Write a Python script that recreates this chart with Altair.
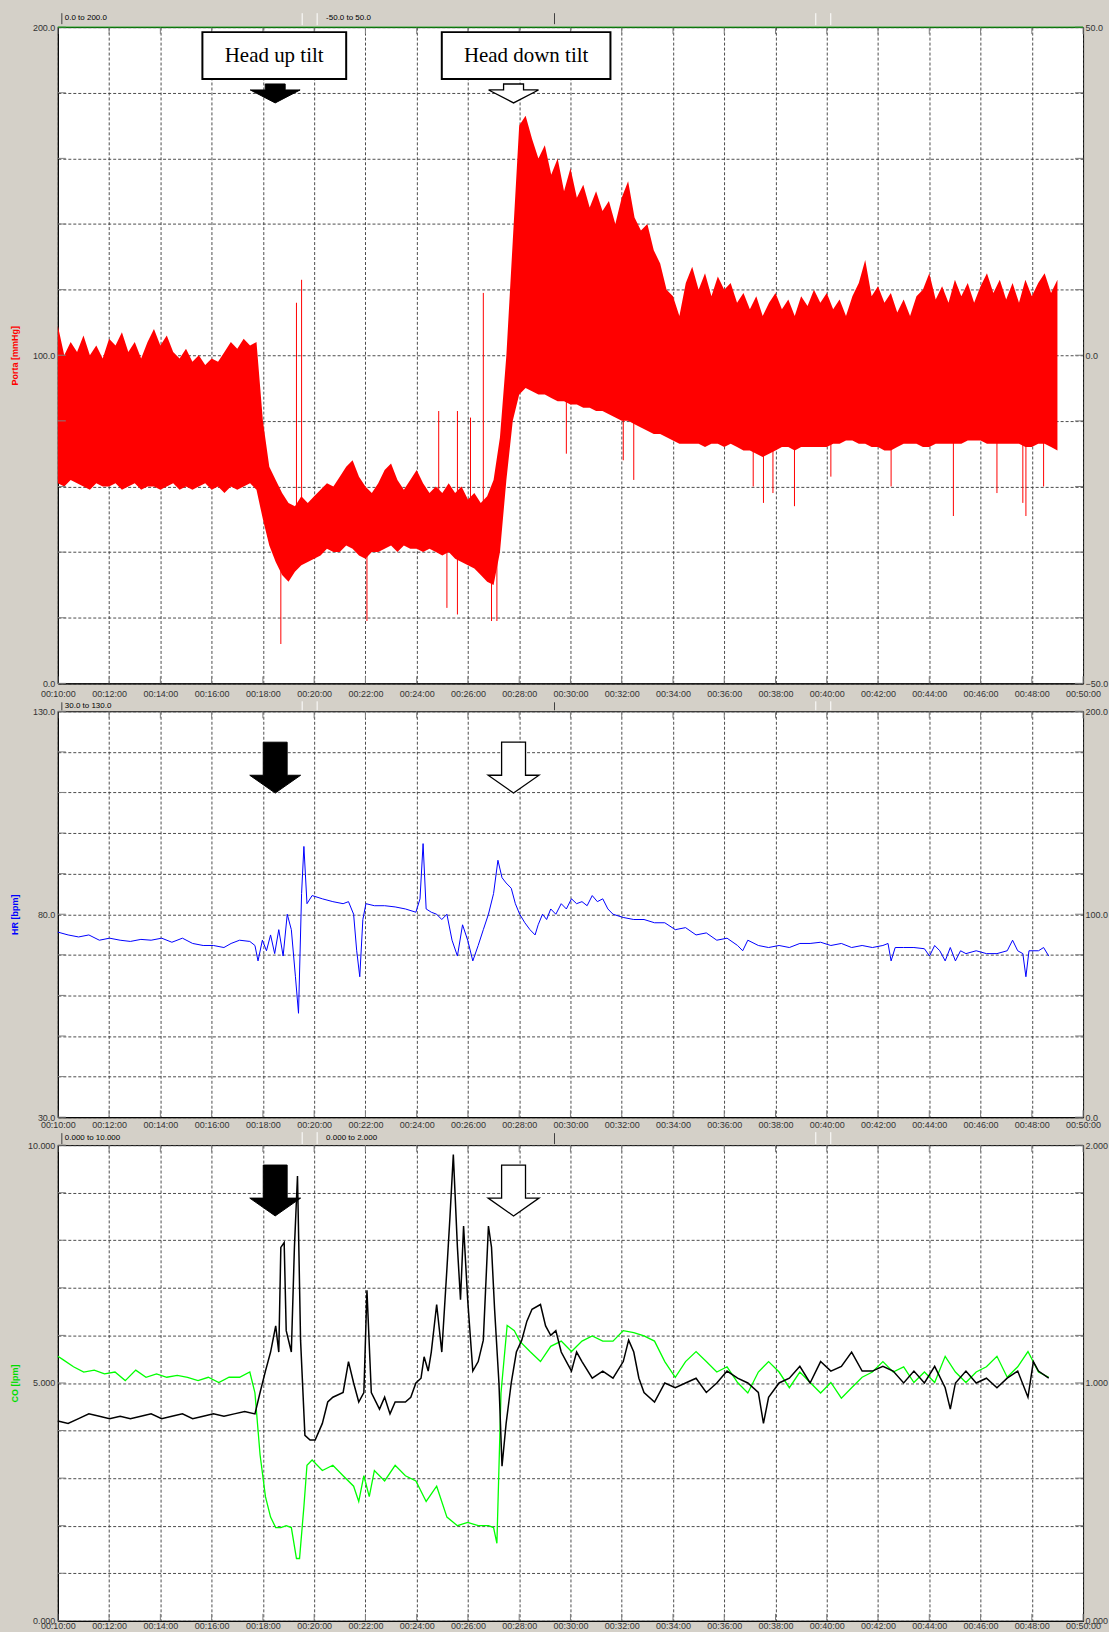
import altair as alt
import pandas as pd

# ---------------- data ----------------
# Top panel: aortic pressure (Porta, mmHg) - pulsatile envelope (min / max), every 15 s
p_time = [10.0, 10.25, 10.5, 10.75, 11.0, 11.25, 11.5, 11.75, 12.0, 12.25, 12.5, 12.75,
          13.0, 13.25, 13.5, 13.75, 14.0, 14.25, 14.5, 14.75, 15.0, 15.25, 15.5, 15.75,
          16.0, 16.25, 16.5, 16.75, 17.0, 17.25, 17.5, 17.75, 18.0, 18.25, 18.5, 18.75,
          19.0, 19.25, 19.5, 19.75, 20.0, 20.25, 20.5, 20.75, 21.0, 21.25, 21.5, 21.75,
          22.0, 22.25, 22.5, 22.75, 23.0, 23.25, 23.5, 23.75, 24.0, 24.25, 24.5, 24.75,
          25.0, 25.25, 25.5, 25.75, 26.0, 26.25, 26.5, 26.75, 27.0, 27.25, 27.5, 27.75,
          28.0, 28.25, 28.5, 28.75, 29.0, 29.25, 29.5, 29.75, 30.0, 30.25, 30.5, 30.75,
          31.0, 31.25, 31.5, 31.75, 32.0, 32.25, 32.5, 32.75, 33.0, 33.25, 33.5, 33.75,
          34.0, 34.25, 34.5, 34.75, 35.0, 35.25, 35.5, 35.75, 36.0, 36.25, 36.5, 36.75,
          37.0, 37.25, 37.5, 37.75, 38.0, 38.25, 38.5, 38.75, 39.0, 39.25, 39.5, 39.75,
          40.0, 40.25, 40.5, 40.75, 41.0, 41.25, 41.5, 41.75, 42.0, 42.25, 42.5, 42.75,
          43.0, 43.25, 43.5, 43.75, 44.0, 44.25, 44.5, 44.75, 45.0, 45.25, 45.5, 45.75,
          46.0, 46.25, 46.5, 46.75, 47.0, 47.25, 47.5, 47.75, 48.0, 48.25, 48.5, 48.75,
          49.0]
p_upper = [109, 100, 104, 101, 106, 100, 103, 99, 105, 103, 107, 101,
           104, 99, 104, 108, 103, 106, 101, 99, 102, 98, 100, 97,
           99, 98, 101, 104, 102, 105, 103, 104, 80, 66, 62, 58,
           55, 54, 57, 55, 57, 59, 61, 60, 63, 66, 68, 63,
           60, 58, 61, 65, 67, 62, 59, 62, 65, 61, 58, 60,
           58, 61, 58, 60, 56, 58, 55, 57, 62, 75, 100, 135,
           170, 173, 166, 160, 164, 155, 160, 150, 157, 148, 152, 145,
           150, 144, 147, 140, 148, 153, 142, 138, 140, 132, 128, 120,
           118, 112, 122, 127, 120, 125, 118, 124, 120, 122, 116, 119,
           114, 118, 112, 116, 119, 114, 117, 112, 118, 115, 120, 116,
           119, 114, 117, 112, 118, 122, 129, 118, 121, 116, 119, 113,
           117, 112, 118, 120, 125, 117, 121, 116, 123, 118, 122, 116,
           121, 125, 119, 123, 117, 122, 116, 123, 118, 122, 125, 119,
           123]
p_lower = [61, 60, 62, 61, 60, 59, 61, 60, 60, 61, 59, 60,
           61, 59, 60, 60, 59, 60, 61, 59, 60, 59, 60, 61,
           59, 60, 58, 60, 59, 60, 61, 59, 50, 42, 37, 33,
           31, 34, 36, 37, 38, 39, 41, 40, 40, 42, 41, 39,
           38, 40, 40, 41, 42, 40, 42, 41, 41, 40, 41, 40,
           39, 40, 38, 37, 36, 35, 33, 31, 30, 40, 62, 80,
           88, 90, 89, 88, 88, 87, 86, 86, 85, 85, 84, 84,
           83, 83, 82, 81, 80, 80, 79, 78, 77, 76, 76, 75,
           74, 73, 73, 73, 73, 72, 73, 73, 72, 73, 72, 71,
           71, 70, 69, 70, 71, 72, 72, 71, 72, 72, 72, 72,
           72, 73, 73, 74, 74, 73, 73, 72, 72, 71, 71, 72,
           73, 73, 73, 72, 72, 73, 73, 73, 73, 73, 74, 74,
           74, 73, 73, 73, 73, 73, 73, 72, 72, 73, 73, 72,
           71]
# isolated spikes of the pressure trace
sp_time = [18.70, 19.31, 19.51, 22.06, 24.86, 25.18, 25.59, 25.59, 26.10, 26.60, 26.92, 27.13,
           29.84, 32.06, 32.47, 37.13, 37.53, 37.90, 38.74, 40.16, 42.51, 44.94, 46.64, 47.65,
           47.77, 48.46]
sp_low = [12, 40, 50, 19, 45, 23, 21, 45, 45, 45, 19, 19,
          70, 68, 62, 60, 55, 58, 54, 63, 60, 51, 58, 55, 51, 60]
sp_high = [45, 116, 123, 45, 83, 45, 45, 83, 81, 119, 40, 40,
           95, 90, 90, 80, 80, 80, 80, 80, 80, 80, 80, 80, 80, 80]

# Middle panel: heart rate (bpm)
hr_time = [10.00, 10.40, 10.81, 11.21, 11.62, 12.02, 12.43, 12.83, 13.24, 13.64, 14.05, 14.45, 14.86,
           15.26, 15.67, 16.07, 16.48, 16.76, 17.09, 17.49, 17.69, 17.81, 17.98, 18.14, 18.30, 18.46,
           18.62, 18.79, 18.95, 19.11, 19.27, 19.39, 19.51, 19.60, 19.72, 19.92, 20.32, 20.73, 21.13,
           21.34, 21.54, 21.66, 21.78, 21.90, 22.02, 22.35, 22.75, 23.16, 23.56, 23.97, 24.13, 24.25,
           24.37, 24.57, 24.78, 24.98, 25.18, 25.38, 25.59, 25.79, 25.99, 26.19, 26.40, 26.60, 26.80,
           27.00, 27.17, 27.33, 27.49, 27.69, 27.85, 28.02, 28.22, 28.42, 28.62, 28.74, 28.91, 29.07,
           29.23, 29.43, 29.64, 29.84, 30.04, 30.24, 30.45, 30.65, 30.85, 31.05, 31.26, 31.46, 31.66,
           32.06, 32.47, 32.87, 33.28, 33.68, 34.09, 34.49, 34.90, 35.30, 35.71, 36.11, 36.52, 36.72,
           36.92, 37.33, 37.73, 38.14, 38.54, 38.95, 39.35, 39.76, 40.16, 40.57, 40.97, 41.38, 41.78,
           42.19, 42.39, 42.51, 42.67, 43.00, 43.40, 43.81, 44.01, 44.21, 44.41, 44.62, 44.82, 45.02,
           45.22, 45.43, 45.83, 46.23, 46.64, 47.04, 47.25, 47.45, 47.65, 47.77, 47.89, 48.26, 48.46,
           48.66]
hr_val = [75.6, 74.9, 74.4, 74.9, 73.6, 74.1, 73.6, 73.3, 73.8, 73.6, 74.1, 73.1, 74.1,
          72.8, 72.3, 72.3, 71.8, 72.8, 73.6, 73.3, 72.3, 68.5, 73.6, 71.0, 74.9, 70.3,
          76.2, 69.7, 80.0, 76.2, 64.6, 55.6, 85.1, 96.7, 82.6, 84.6, 83.8, 83.1, 82.6,
          83.1, 80.0, 71.0, 64.6, 78.7, 82.6, 82.1, 82.1, 81.8, 81.3, 80.5, 83.8, 97.4,
          81.3, 80.5, 80.0, 78.7, 80.0, 73.6, 69.7, 77.4, 73.6, 68.5, 72.3, 76.2, 80.0,
          85.1, 93.3, 89.0, 87.7, 86.4, 82.6, 80.0, 77.9, 76.2, 74.9, 77.4, 80.0, 78.7,
          81.3, 80.0, 82.6, 81.3, 83.8, 82.6, 83.1, 82.1, 84.6, 83.1, 83.8, 81.3, 80.0,
          79.2, 78.7, 78.7, 77.9, 77.9, 76.2, 76.7, 74.9, 75.4, 73.6, 74.1, 72.3, 71.0,
          73.6, 72.3, 71.8, 72.3, 71.8, 72.8, 72.8, 73.1, 72.3, 72.8, 71.8, 72.3, 71.8,
          72.3, 72.8, 68.5, 71.8, 71.8, 71.8, 71.5, 69.7, 72.3, 71.0, 68.5, 71.8, 68.5,
          71.0, 70.3, 71.0, 70.3, 70.3, 71.0, 73.6, 71.0, 70.3, 64.6, 71.0, 71.0, 71.8,
          69.7]

# Bottom panel: cardiac output (green, lpm, left axis)
co_time = [10.00, 10.20, 10.61, 11.01, 11.42, 11.82, 12.23, 12.63, 13.04, 13.44, 13.85, 14.25, 14.66,
           15.06, 15.47, 15.87, 16.28, 16.68, 17.09, 17.49, 17.69, 17.89, 18.10, 18.30, 18.50, 18.70,
           18.91, 19.11, 19.31, 19.43, 19.60, 19.72, 19.92, 20.32, 20.73, 21.13, 21.54, 21.74, 21.94,
           22.15, 22.35, 22.75, 23.16, 23.56, 23.97, 24.37, 24.78, 25.18, 25.59, 25.99, 26.40, 26.80,
           27.00, 27.13, 27.29, 27.53, 27.81, 28.02, 28.42, 28.83, 29.23, 29.64, 30.04, 30.45, 30.85,
           31.26, 31.66, 32.06, 32.47, 32.87, 33.28, 33.68, 34.09, 34.49, 34.90, 35.30, 35.71, 36.11,
           36.52, 36.92, 37.33, 37.73, 38.14, 38.54, 38.95, 39.35, 39.76, 40.16, 40.57, 40.97, 41.38,
           41.78, 42.19, 42.59, 43.00, 43.40, 43.81, 44.21, 44.62, 45.02, 45.43, 45.83, 46.23, 46.64,
           47.04, 47.45, 47.85, 48.26, 48.66]
co_val = [5.56, 5.49, 5.34, 5.23, 5.27, 5.19, 5.23, 5.05, 5.27, 5.12, 5.19, 5.12, 5.16,
          5.12, 5.05, 5.12, 5.01, 5.12, 5.12, 5.23, 4.79, 3.49, 2.61, 2.18, 1.96, 1.96,
          2.00, 1.96, 1.31, 1.31, 2.40, 3.27, 3.38, 3.16, 3.27, 3.05, 2.83, 2.51, 3.05,
          2.61, 3.16, 2.94, 3.27, 3.05, 2.94, 2.51, 2.83, 2.18, 2.00, 2.07, 2.00, 2.00,
          1.96, 1.63, 4.79, 6.21, 6.10, 5.88, 5.66, 5.45, 5.77, 5.88, 5.66, 5.88, 5.99,
          5.88, 5.88, 6.10, 6.06, 5.99, 5.88, 5.45, 5.12, 5.45, 5.66, 5.45, 5.23, 5.34,
          5.01, 4.79, 5.23, 5.45, 5.23, 4.90, 5.23, 5.01, 4.79, 5.01, 4.68, 4.90, 5.12,
          5.23, 5.45, 5.23, 5.34, 5.01, 5.23, 5.01, 5.56, 5.23, 5.01, 5.23, 5.34, 5.56,
          5.12, 5.34, 5.66, 5.23, 5.12]

# Bottom panel: second signal (black, right axis 0-2)
k_time = [10.00, 10.40, 10.81, 11.21, 11.62, 12.02, 12.43, 12.83, 13.24, 13.64, 14.05, 14.45, 14.86,
          15.26, 15.67, 16.07, 16.48, 16.88, 17.29, 17.69, 17.89, 18.10, 18.30, 18.50, 18.62, 18.70,
          18.83, 18.91, 19.11, 19.23, 19.35, 19.47, 19.64, 19.84, 20.04, 20.32, 20.53, 20.73, 21.13,
          21.34, 21.54, 21.74, 21.94, 22.06, 22.23, 22.55, 22.75, 22.96, 23.16, 23.56, 23.77, 23.97,
          24.17, 24.29, 24.45, 24.57, 24.78, 24.98, 25.18, 25.30, 25.43, 25.59, 25.71, 25.83, 25.99,
          26.19, 26.40, 26.60, 26.80, 26.92, 27.04, 27.21, 27.33, 27.49, 27.69, 27.89, 28.10, 28.30,
          28.50, 28.83, 29.03, 29.23, 29.43, 29.64, 29.84, 30.04, 30.24, 30.45, 30.85, 31.26, 31.66,
          32.06, 32.27, 32.47, 32.67, 32.87, 33.28, 33.68, 34.09, 34.49, 34.90, 35.30, 35.71, 36.11,
          36.52, 36.92, 37.33, 37.53, 37.73, 38.14, 38.54, 38.95, 39.35, 39.76, 40.16, 40.57, 40.97,
          41.38, 41.78, 42.19, 42.59, 43.00, 43.40, 43.81, 44.21, 44.62, 44.82, 45.02, 45.43, 45.83,
          46.23, 46.64, 47.04, 47.45, 47.85, 48.06, 48.26, 48.66]
k_val = [0.84, 0.83, 0.85, 0.87, 0.86, 0.85, 0.86, 0.85, 0.86, 0.87, 0.85, 0.86, 0.87,
         0.85, 0.86, 0.87, 0.86, 0.87, 0.88, 0.87, 0.96, 1.05, 1.13, 1.24, 1.13, 1.57,
         1.59, 1.22, 1.13, 1.57, 1.87, 1.18, 0.78, 0.76, 0.76, 0.83, 0.92, 0.94, 0.96,
         1.09, 1.00, 0.92, 0.96, 1.39, 0.96, 0.89, 0.94, 0.87, 0.92, 0.92, 0.94, 1.00,
         1.02, 1.11, 1.05, 1.13, 1.33, 1.13, 1.48, 1.70, 1.96, 1.57, 1.35, 1.66, 1.35,
         1.05, 1.09, 1.18, 1.66, 1.57, 1.31, 1.00, 0.65, 0.83, 1.00, 1.13, 1.18, 1.26,
         1.31, 1.33, 1.24, 1.20, 1.22, 1.13, 1.09, 1.05, 1.13, 1.09, 1.02, 1.05, 1.02,
         1.09, 1.18, 1.13, 1.02, 0.96, 0.92, 1.00, 0.98, 1.00, 1.02, 0.96, 1.00, 1.05,
         1.02, 1.00, 0.96, 0.83, 0.94, 1.00, 1.02, 1.07, 1.00, 1.09, 1.05, 1.07, 1.13,
         1.05, 1.05, 1.07, 1.05, 1.00, 1.05, 1.00, 1.07, 0.98, 0.89, 1.00, 1.05, 1.00,
         1.02, 0.98, 1.02, 1.05, 0.94, 1.09, 1.05, 1.02]

tick_times = [10, 12, 14, 16, 18, 20, 22, 24, 26, 28, 30, 32, 34, 36, 38, 40, 42, 44, 46, 48, 50]
annot_labels = ["Head up tilt", "Head down tilt"]
annot_start = [15.64, 24.98]
annot_end = [21.25, 31.56]
annot_center = [18.44, 28.27]
arrow_up_time = [18.48]
arrow_down_time = [27.78]

# ---------------- styling helpers ----------------
W = 1028
H_TOP, H_MID, H_BOT = 658, 407, 477
GRID = dict(grid=True, gridDash=[3, 2], gridColor="#3a3a3a", gridWidth=1, gridOpacity=0.9)
LAB = dict(labelFont="Liberation Sans", labelFontSize=9, labelColor="#333333")
TICKCOL = "#808080"
BG = "#d4d0c8"

ARROW_SMALL = "M-0.4,-0.38L0.4,-0.38L0.4,-0.14L1,-0.14L0,0.38L-1,-0.14L-0.4,-0.14Z"
ARROW_BIG = "M-0.47,-1L0.47,-1L0.47,0.3L1,0.3L0,1L-1,0.3L-0.47,0.3Z"


def x_axis(pad):
    return alt.Axis(values=tick_times, labelExpr="'00:' + datum.value + ':00'", ticks=False,
                    labelPadding=pad, labelFlush=False, title=None, domainColor="black",
                    labelOverlap=False, **GRID, **LAB)


def X(field, pad):
    return alt.X(field, type="quantitative", scale=alt.Scale(domain=[10, 50], nice=False, zero=False),
                 axis=x_axis(pad))


def left_axis(step_vals, label_every, fmt, title, color):
    expr = "(datum.value - %s) %% %s == 0 ? format(datum.value, '%s') : ''" % (
        step_vals[0], label_every, fmt)
    return alt.Axis(values=step_vals, labelExpr=expr, ticks=False, labelPadding=3, title=title,
                    titleColor=color, titleFont="Liberation Sans", titleFontSize=9,
                    titleFontWeight="bold", titleX=-38, domainColor="black", **GRID, **LAB)


def right_layer(domain, vals, fmt):
    df = pd.DataFrame({"r": domain})
    return alt.Chart(df).mark_point(opacity=0).encode(
        x=alt.value(0),
        y=alt.Y("r:Q", scale=alt.Scale(domain=domain, nice=False),
                axis=alt.Axis(orient="right", values=vals, format=fmt, grid=False, ticks=False,
                              domain=False, title=None, labelPadding=2, **LAB)))


def edge_ticks(pad, H, yfield_vals, yenc):
    dft = pd.DataFrame({"t": tick_times})
    bot = alt.Chart(dft).mark_rule(color=TICKCOL).encode(x=X("t", pad), y=alt.value(H - 7), y2=alt.value(H))
    top = alt.Chart(dft).mark_rule(color=TICKCOL).encode(x=X("t", pad), y=alt.value(0), y2=alt.value(7))
    dfy = pd.DataFrame({"v": yfield_vals})
    lft = alt.Chart(dfy).mark_rule(color=TICKCOL).encode(y=yenc("v"), x=alt.value(0), x2=alt.value(8))
    rgt = alt.Chart(dfy).mark_rule(color=TICKCOL).encode(y=yenc("v"), x=alt.value(W - 8), x2=alt.value(W))
    return [bot, top, lft, rgt]


def arrows(pad, ypix, shape, size):
    a1 = alt.Chart(pd.DataFrame({"t": arrow_up_time})).mark_point(
        shape=shape, size=size, filled=True, fill="black", stroke="black", strokeWidth=1, opacity=1
    ).encode(x=X("t", pad), y=alt.value(ypix))
    a2 = alt.Chart(pd.DataFrame({"t": arrow_down_time})).mark_point(
        shape=shape, size=size, filled=True, fill="white", stroke="black", strokeWidth=1.3, opacity=1
    ).encode(x=X("t", pad), y=alt.value(ypix))
    return [a1, a2]


def header_text(texts, xs, ypix, colors):
    out = []
    for t, xp, c in zip(texts, xs, colors):
        out.append(alt.Chart(pd.DataFrame({"s": [t]})).mark_text(
            align="left", baseline="middle", font="Liberation Sans", fontSize=8, color=c
        ).encode(text="s:N", x=alt.value(xp), y=alt.value(ypix)))
    return out


def header_brackets(y0, y1, xs, color="#404040"):
    out = []
    for xp in xs:
        out.append(alt.Chart(pd.DataFrame({"a": [0]})).mark_rule(color=color, strokeWidth=1).encode(
            x=alt.value(xp), y=alt.value(y0), y2=alt.value(y1)))
    return out


def header_separators(y0, y1, xs):
    out = []
    for xp in xs:
        out.append(alt.Chart(pd.DataFrame({"a": [0]})).mark_rule(color="#ffffff", strokeWidth=1).encode(
            x=alt.value(xp), y=alt.value(y0), y2=alt.value(y1)))
    return out


dummy = pd.DataFrame({"a": [0]})

# ---------------- top panel ----------------
PAD_TOP = 6
yvals_top = [0, 20, 40, 60, 80, 100, 120, 140, 160, 180, 200]
ax_top = left_axis(yvals_top, 100, ".1f", "Porta [mmHg]", "red")


def Ytop(f):
    return alt.Y(f, type="quantitative", scale=alt.Scale(domain=[0, 200], nice=False), axis=ax_top)


df_p = pd.DataFrame({"t": p_time, "hi": p_upper, "lo": p_lower})
df_sp = pd.DataFrame({"t": sp_time, "lo": sp_low, "hi": sp_high})
area = alt.Chart(df_p).mark_area(color="#ff0000", opacity=1).encode(
    x=X("t", PAD_TOP), y=Ytop("lo"), y2="hi")
spikes = alt.Chart(df_sp).mark_rule(color="#ff0000", strokeWidth=1).encode(
    x=X("t", PAD_TOP), y=Ytop("lo"), y2="hi")
green_top = alt.Chart(dummy).mark_rule(color="#00a000", strokeWidth=1).encode(
    x=alt.value(0), x2=alt.value(W), y=alt.value(0))
df_box = pd.DataFrame({"x0": annot_start, "x1": annot_end, "xc": annot_center, "lab": annot_labels})
boxes = alt.Chart(df_box).mark_rect(fill="white", stroke="black", strokeWidth=2).encode(
    x=X("x0", PAD_TOP), x2="x1", y=alt.value(5), y2=alt.value(52))
box_text = alt.Chart(df_box).mark_text(font="Liberation Serif", fontSize=21, color="black",
                                       baseline="middle").encode(
    x=X("xc", PAD_TOP), y=alt.value(28.5), text="lab:N")

top_left = alt.layer(
    area, spikes, *edge_ticks(PAD_TOP, H_TOP, yvals_top, Ytop), green_top, boxes, box_text,
    *arrows(PAD_TOP, 66.5, ARROW_SMALL, 2500),
    *header_text(["0.0 to 200.0", "-50.0 to 50.0"], [7, 269], -9, ["black", "black"]),
    *header_brackets(-14, -3, [4, 498]),
    *header_separators(-14, -2, [245, 260, 760, 775]),
)
top = alt.layer(top_left, right_layer([-50, 50], [-50, 0, 50], ".1f")).resolve_scale(
    y="independent").properties(width=W, height=H_TOP)

# ---------------- middle panel ----------------
PAD_MID = 3
yvals_mid = [30, 40, 50, 60, 70, 80, 90, 100, 110, 120, 130]
ax_mid = left_axis(yvals_mid, 50, ".1f", "HR [bpm]", "blue")


def Ymid(f):
    return alt.Y(f, type="quantitative", scale=alt.Scale(domain=[30, 130], nice=False, zero=False), axis=ax_mid)


df_hr = pd.DataFrame({"t": hr_time, "v": hr_val})
hr_line = alt.Chart(df_hr).mark_line(color="#0000ff", strokeWidth=1).encode(x=X("t", PAD_MID), y=Ymid("v"))
mid_left = alt.layer(
    hr_line, *edge_ticks(PAD_MID, H_MID, yvals_mid, Ymid),
    *arrows(PAD_MID, 56.5, ARROW_BIG, 2601),
    *header_text(["30.0 to 130.0"], [7], -5, ["black"]),
    *header_brackets(-9, -1, [4, 498]),
    *header_separators(-10, -1, [245, 260, 760, 775]),
)
mid = alt.layer(mid_left, right_layer([0, 200], [0, 100, 200], ".1f")).resolve_scale(
    y="independent").properties(width=W, height=H_MID)

# ---------------- bottom panel ----------------
PAD_BOT = 1
yvals_bot = [0, 1, 2, 3, 4, 5, 6, 7, 8, 9, 10]
ax_bot = left_axis(yvals_bot, 5, ".3f", "CO [lpm]", "#00dd00")


def Ybot(f):
    return alt.Y(f, type="quantitative", scale=alt.Scale(domain=[0, 10], nice=False), axis=ax_bot)


df_co = pd.DataFrame({"t": co_time, "v": co_val})
df_k = pd.DataFrame({"t": k_time, "v": k_val})
co_line = alt.Chart(df_co).mark_line(color="#00ff00", strokeWidth=1.3).encode(x=X("t", PAD_BOT), y=Ybot("v"))
bot_left = alt.layer(
    co_line, *edge_ticks(PAD_BOT, H_BOT, yvals_bot, Ybot),
    *header_text(["0.000 to 10.000", "0.000 to 2.000"], [7, 269], -7, ["black", "black"]),
    *header_brackets(-12, -1, [4, 498]),
    *header_separators(-13, -1, [245, 260, 760, 775]),
)
k_line = alt.Chart(df_k).mark_line(color="black", strokeWidth=1.5).encode(
    x=X("t", PAD_BOT),
    y=alt.Y("v:Q", scale=alt.Scale(domain=[0, 2], nice=False),
            axis=alt.Axis(orient="right", values=[0, 1, 2], format=".3f", grid=False, ticks=False,
                          domain=False, title=None, labelPadding=2, **LAB)))
bot_arrows = alt.layer(*arrows(PAD_BOT, 45.5, ARROW_BIG, 2601))
bot = alt.layer(bot_left, k_line, bot_arrows).resolve_scale(y="independent").properties(
    width=W, height=H_BOT)

chart = alt.vconcat(top, mid, bot, spacing=28, bounds="flush").configure(
    background=BG, padding={"left": 10, "top": 10, "right": 0, "bottom": 0}
).configure_view(stroke="black", strokeWidth=1, fill="white")

chart.save("out.html", embed_options={"renderer": "svg", "actions": False})
